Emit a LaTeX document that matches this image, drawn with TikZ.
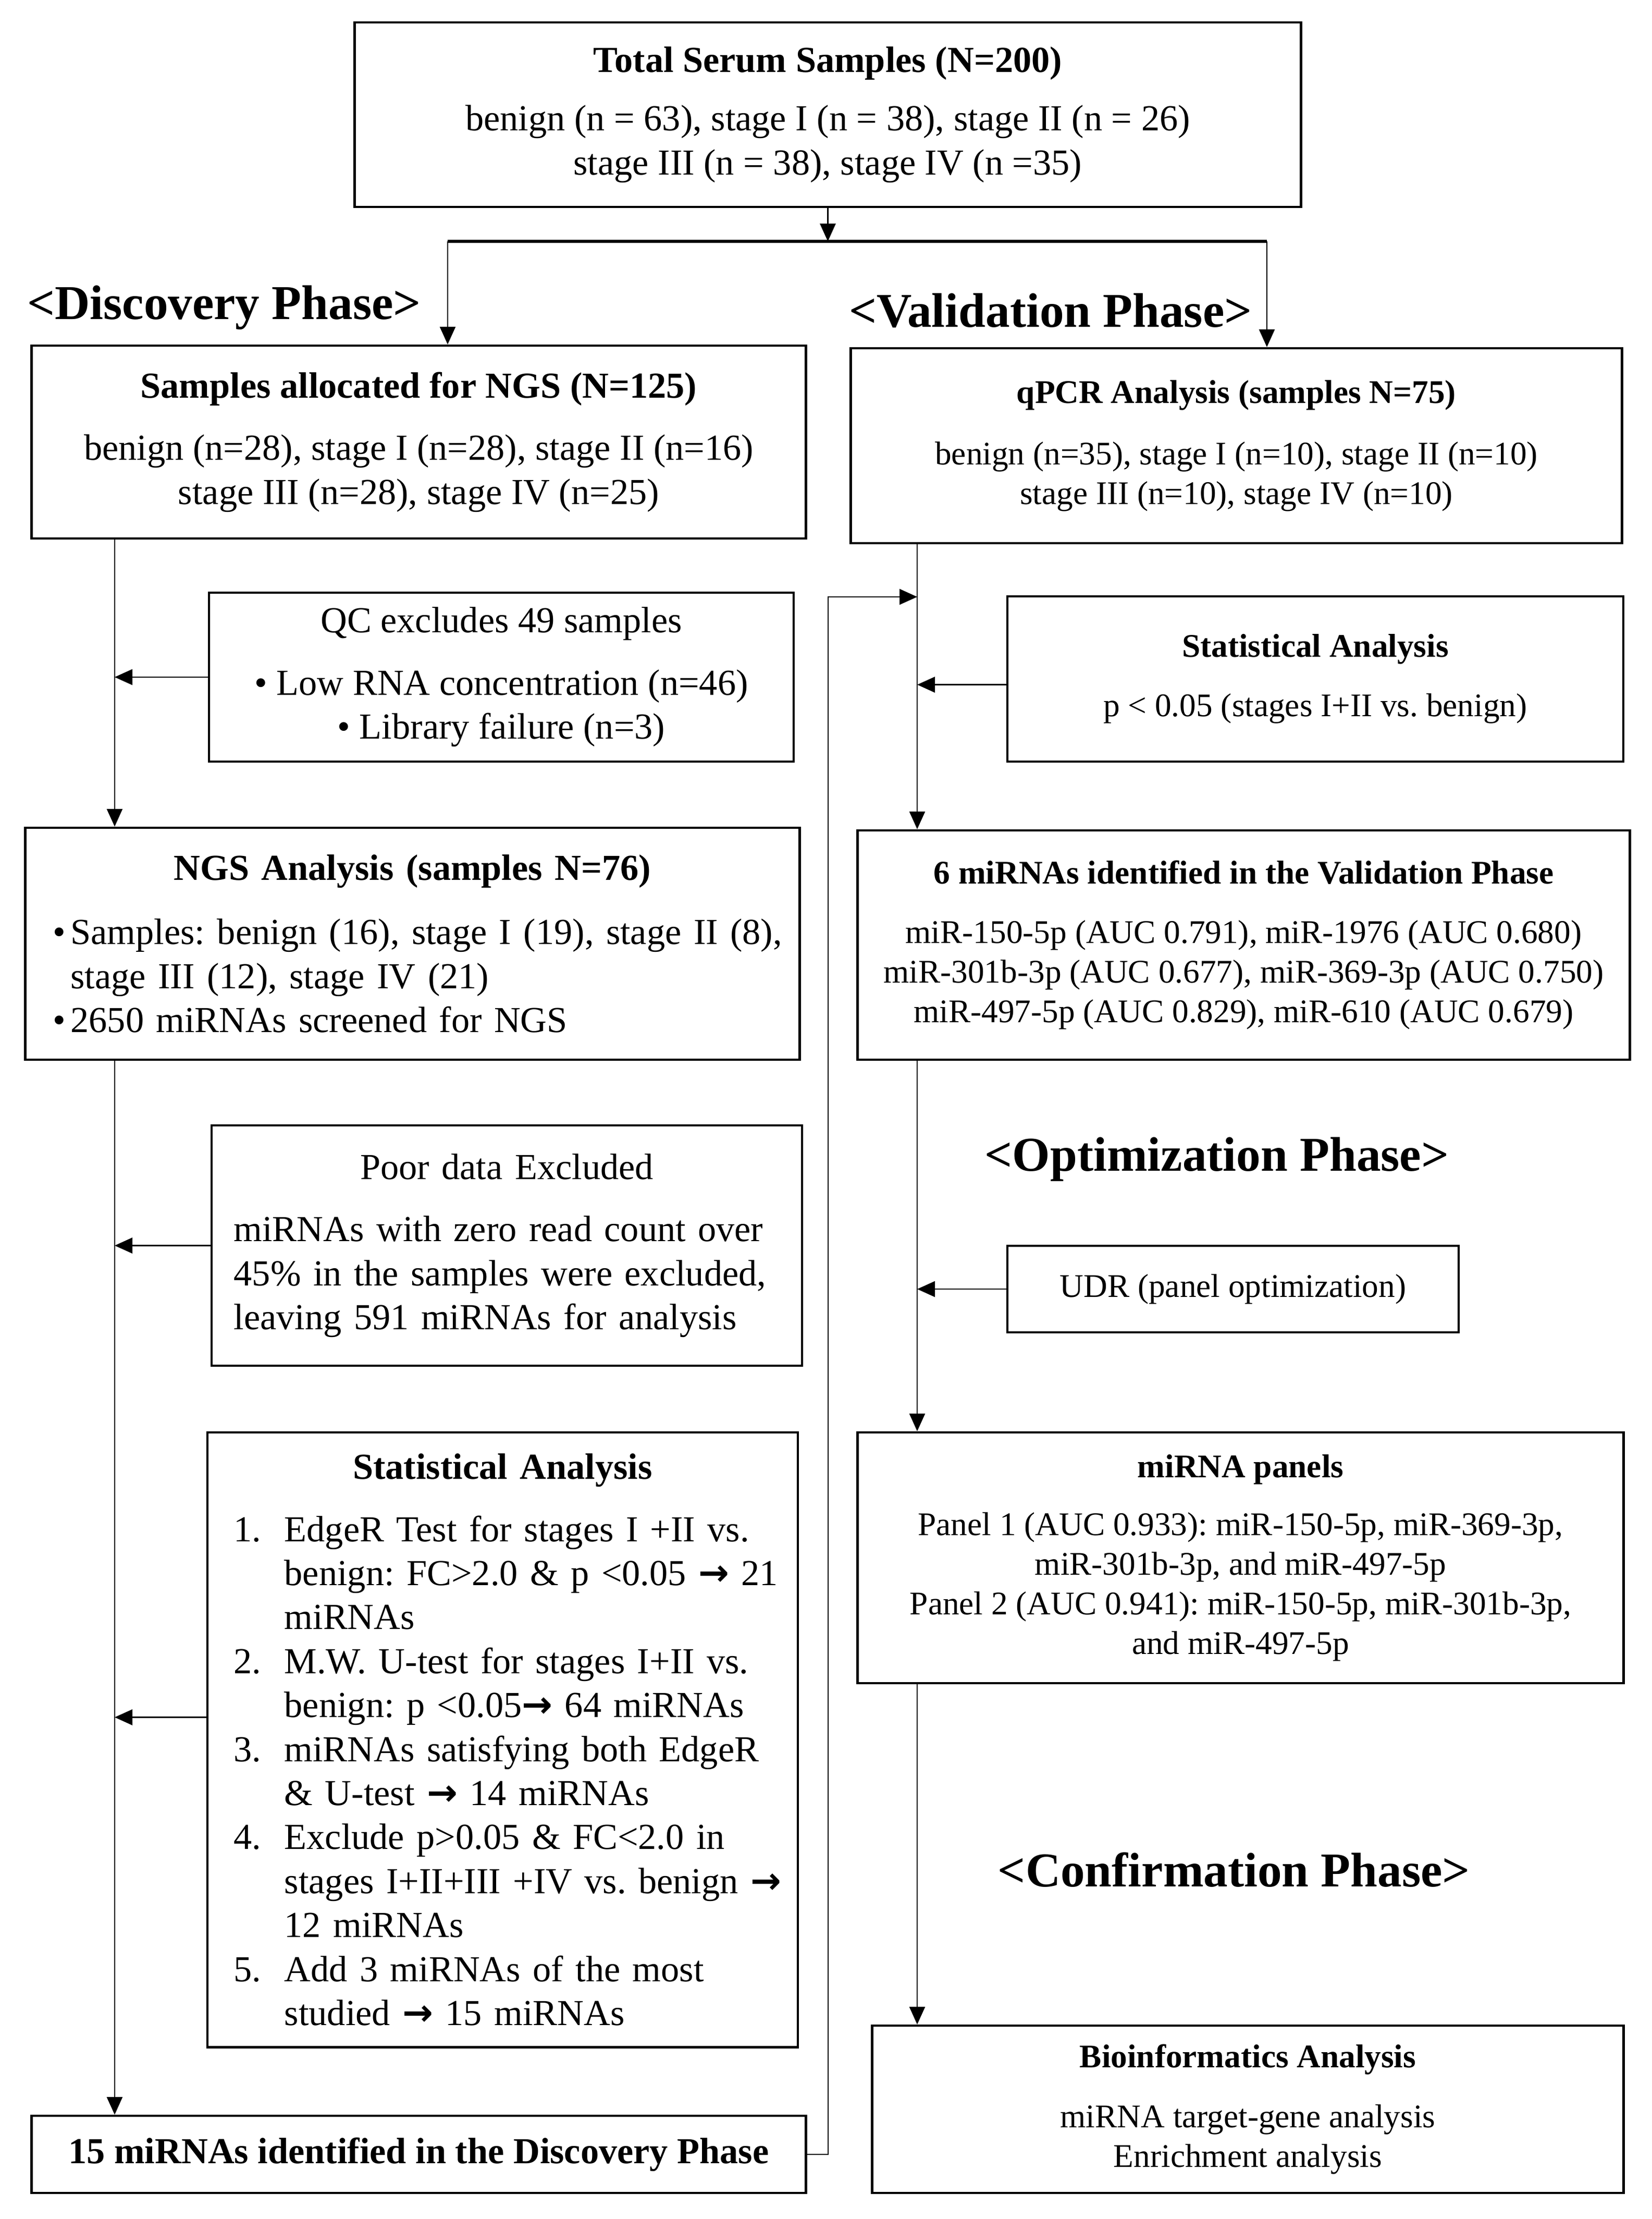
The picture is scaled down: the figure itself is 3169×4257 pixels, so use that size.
\documentclass[tikz,border=0pt]{standalone}
\usepackage{fontspec}
\setmainfont{Liberation Serif}
\newfontfamily\arrowfont{DejaVu Sans}
\usetikzlibrary{arrows.meta}
\AtBeginDocument{\frenchspacing}
\newcommand{\myarrow}{{\arrowfont\bfseries →}}
\newcommand{\numitem}[1]{\makebox[0.97cm][l]{#1}}
\newcommand{\hang}{\hspace*{0.97cm}}
\newcommand{\bul}{\makebox[0.34cm][l]{\textbullet}}
\begin{document}
\begin{tikzpicture}[x=0.01cm,y=-0.01cm,
  box/.style={draw, line width=1.2pt, rectangle, inner sep=0pt, align=center},
  lbox/.style={draw, line width=1.2pt, rectangle, inner sep=0pt, align=left},
  f20/.style={font=\fontsize{20}{24}\selectfont},
  f18/.style={font=\fontsize{18}{21.6}\selectfont},
  phase/.style={font=\fontsize{26.5}{30}\selectfont\bfseries, inner sep=0pt},
  conn/.style={line width=0.8pt},
  arr/.style={conn, -{Triangle[length=0.34cm,width=0.3cm]}}]
\useasboundingbox (0,0) rectangle (3169,4257);
\fill[white] (0,0) rectangle (3169,4257);

% boxes
\node[box,f20,minimum width=18.15cm,minimum height=3.54cm] (top) at (1588.5,220)
  {\textbf{Total Serum Samples (N=200)}\\[8pt]
   benign (n = 63), stage I (n = 38), stage II (n = 26)\\
   stage III (n = 38), stage IV (n =35)};

\node[box,f20,minimum width=14.85cm,minimum height=3.70cm] (alloc) at (803.5,848)
  {\textbf{Samples allocated for NGS (N=125)}\\[10pt]
   benign (n=28), stage I (n=28), stage II (n=16)\\
   stage III (n=28), stage IV (n=25)};

\node[box,f18,minimum width=14.79cm,minimum height=3.74cm] (qpcr) at (2372.5,855)
  {\textbf{qPCR Analysis (samples N=75)}\\[12pt]
   benign (n=35), stage I (n=10), stage II (n=10)\\
   stage III (n=10), stage IV (n=10)};

\node[box,f20,minimum width=11.22cm,minimum height=3.24cm] (qc) at (962,1299)
  {QC excludes 49 samples\\[10pt]
   \textbullet\ Low RNA concentration (n=46)\\
   \textbullet\ Library failure (n=3)};

\node[box,f18,minimum width=11.82cm,minimum height=3.17cm] (stat1) at (2524,1302.5)
  {\textbf{Statistical Analysis}\\[11pt]
   p < 0.05 (stages I+II vs. benign)};

\node[lbox,f20,text width=14.85cm,minimum height=4.45cm] (ngs) at (791.5,1810.5)
  {\makebox[\linewidth][c]{\bfseries NGS Analysis (samples N=76)}\\[11pt]
   \hspace*{0.53cm}\bul Samples: benign (16), stage I (19), stage II (8),\\
   \hspace*{0.87cm}stage III (12), stage IV (21)\\
   \hspace*{0.53cm}\bul 2650 miRNAs screened for NGS};

\node[box,f18,minimum width=14.81cm,minimum height=4.40cm] (six) at (2386.5,1813)
  {\textbf{6 miRNAs identified in the Validation Phase}\\[11pt]
   miR-150-5p (AUC 0.791), miR-1976 (AUC 0.680)\\
   miR-301b-3p (AUC 0.677), miR-369-3p (AUC 0.750)\\
   miR-497-5p (AUC 0.829), miR-610 (AUC 0.679)};

\node[lbox,f20,text width=11.33cm,minimum height=4.61cm] (poor) at (972.5,2389.5)
  {\makebox[\linewidth][c]{Poor data Excluded}\\[10pt]
   \hspace*{0.43cm}miRNAs with zero read count over\\
   \hspace*{0.43cm}45\% in the samples were excluded,\\
   \hspace*{0.43cm}leaving 591 miRNAs for analysis};

\node[box,f18,minimum width=8.66cm,minimum height=1.66cm] (udr) at (2366,2473)
  {UDR (panel optimization)};

\node[lbox,f20,text width=11.33cm,minimum height=11.79cm] (stat2) at (964.5,3337.5)
  {\makebox[\linewidth][c]{\bfseries Statistical Analysis}\\[10pt]
   \hspace*{0.51cm}\numitem{1.}EdgeR Test for stages I +II vs.\\
   \hspace*{0.51cm}\hang benign: FC>2.0 \& p <0.05 \myarrow{} 21\\
   \hspace*{0.51cm}\hang miRNAs\\
   \hspace*{0.51cm}\numitem{2.}M.W. U-test for stages I+II vs.\\
   \hspace*{0.51cm}\hang benign: p <0.05\myarrow{} 64 miRNAs\\
   \hspace*{0.51cm}\numitem{3.}miRNAs satisfying both EdgeR\\
   \hspace*{0.51cm}\hang \& U-test \myarrow{} 14 miRNAs\\
   \hspace*{0.51cm}\numitem{4.}Exclude p>0.05 \& FC<2.0 in\\
   \hspace*{0.51cm}\hang stages I+II+III +IV vs. benign \myarrow\\
   \hspace*{0.51cm}\hang 12 miRNAs\\
   \hspace*{0.51cm}\numitem{5.}Add 3 miRNAs of the most\\
   \hspace*{0.51cm}\hang studied \myarrow{} 15 miRNAs};

\node[box,f18,minimum width=14.69cm,minimum height=4.81cm] (panels) at (2380.5,2988.5)
  {\textbf{miRNA panels}\\[10pt]
   Panel 1 (AUC 0.933): miR-150-5p, miR-369-3p,\\
   miR-301b-3p, and miR-497-5p\\
   Panel 2 (AUC 0.941): miR-150-5p, miR-301b-3p,\\
   and miR-497-5p};

\node[box,f20,minimum width=14.85cm,minimum height=1.48cm] (fifteen) at (803.5,4133)
  {\textbf{15 miRNAs identified in the Discovery Phase}};

\node[box,f18,minimum width=14.41cm,minimum height=3.21cm] (bio) at (2394.5,4046.5)
  {\textbf{Bioinformatics Analysis}\\[11pt]
   miRNA target-gene analysis\\
   Enrichment analysis};

% phase labels
\node[phase] (pdisc) at (430,590) {<Discovery Phase>};
\node[phase] (pval) at (2016,596) {<Validation Phase>};
\node[phase] (popt) at (2335,2224) {<Optimization Phase>};
\node[phase] (pconf) at (2368,3587) {<Confirmation Phase>};

% coordinates
\coordinate (split) at (1588.5,463);
\coordinate (barL) at (859,463);
\coordinate (barR) at (2431,463);
\coordinate (LX) at (220,0);
\coordinate (RX) at (1760,0);
\coordinate (FX) at (1589,0);
\coordinate (fbtop) at (1589,1145);

% connectors
\draw[arr] (top.south) -- (split);
\draw[line width=1.6pt] (barL) -- (barR);
\draw[arr] (barL) -- (barL |- alloc.north);
\draw[arr] (barR) -- (barR |- qpcr.north);

\draw[arr] (alloc.south -| LX) -- (ngs.north -| LX);
\draw[arr] (qc.west) -- (qc.west -| LX);
\draw[arr] (ngs.south -| LX) -- (fifteen.north -| LX);
\draw[arr] (poor.west) -- (poor.west -| LX);
\draw[arr] ([yshift=0.43cm]stat2.west) -- ([yshift=0.43cm]stat2.west -| LX);

\draw[arr] (qpcr.south -| RX) -- (six.north -| RX);
\draw[arr] ([yshift=-0.11cm]stat1.west) -- ([yshift=-0.11cm]stat1.west -| RX);
\draw[arr] (six.south -| RX) -- (panels.north -| RX);
\draw[arr] (udr.west) -- (udr.west -| RX);
\draw[arr] (panels.south -| RX) -- (bio.north -| RX);

\draw[arr] (fifteen.east) -- (fifteen.east -| FX) -- (fbtop) -- (fbtop -| RX);
\end{tikzpicture}
\end{document}
